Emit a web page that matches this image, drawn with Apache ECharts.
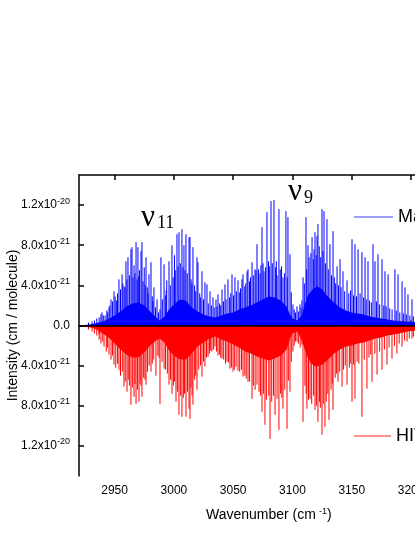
<!DOCTYPE html>
<html>
<head>
<meta charset="utf-8">
<script src="https://cdn.jsdelivr.net/npm/echarts@6/dist/echarts.min.js"></script>
<style>
  html, body { margin: 0; padding: 0; background: #fff; overflow: hidden; }
  #chart { width: 480px; height: 537px; }
</style>
</head>
<body>
<div id="chart"></div>
<script>
// line strengths in units of 1e-21 cm/molecule, wavenumbers in cm-1
var xTicks = [2950, 3000, 3050, 3100, 3150, 3200];
var yTicks = [-12, -8, -4, 0, 4, 8, 12];
var yTickText = ['1.2x10{sup|-20}', '8.0x10{sup|-21}', '4.0x10{sup|-21}', '0.0',
                 '4.0x10{sup|-21}', '8.0x10{sup|-21}', '1.2x10{sup|-20}'];

// MaYTY strong sticks (upper half)
var calcWn = [2939.4, 2942, 2945.3, 2947, 2949.5, 2951.5, 2953.7, 2956.3, 2958, 2959.6,
  2961.3, 2963.8, 2964.7, 2966.4, 2968.1, 2969.7, 2971, 2972.3, 2973.1, 2975,
  2976.5, 2979, 2980.7, 2983.2, 2985.8, 2989.1, 2991.7, 2994, 2995.9, 2998.4,
  3000.5, 3002.6, 3004.3, 3006.8, 3008.5, 3010.2, 3012.8, 3013.6, 3016.1, 3019.5,
  3020.3, 3023.7, 3026.2, 3027.9, 3030.5, 3033, 3035.5, 3037.2, 3040.6, 3043.1,
  3045.6, 3049, 3051.5, 3054.1, 3057.4, 3058.3, 3061.7, 3062.5, 3065.9, 3068.4,
  3070.1, 3072.6, 3074.3, 3076, 3078.5, 3081.9, 3084.4, 3087, 3088.6, 3092,
  3094.5, 3096.2, 3097.9, 3100.4, 3103.8, 3106.3, 3108, 3108.9, 3111.4, 3113.1,
  3116.5, 3119, 3120.7, 3121.5, 3124.9, 3126.6, 3129.1, 3131.6, 3134.2, 3137.6,
  3140.1, 3142.6, 3146, 3150.2, 3152.7, 3155.3, 3158.6, 3161.2, 3163.7, 3167.9,
  3169.6, 3172.1, 3175.5, 3178, 3180.6, 3186.4, 3189, 3192.4, 3194.9, 3197.4, 3200.8];
var calcVal = [1.3, 1.0, 1.8, 2.6, 3.4, 2.5, 4.6, 5.1, 3.9, 6.4,
  6.8, 7.6, 7.8, 6.0, 8.3, 7.8, 5.5, 7.4, 8.3, 5.8,
  6.8, 5.1, 6.3, 3.8, 2.6, 6.8, 6.1, 4.5, 6.4, 8.0,
  7.0, 9.1, 9.3, 9.6, 8.0, 9.1, 8.8, 8.8, 7.8, 6.8,
  6.3, 5.4, 4.3, 4.1, 3.4, 2.8, 2.6, 3.1, 3.6, 4.1,
  4.6, 5.1, 4.8, 4.5, 4.6, 5.1, 5.4, 5.6, 6.3, 5.6,
  8.1, 5.2, 9.8, 5.4, 11.3, 12.4, 12.5, 5.0, 11.6, 4.8,
  11.4, 10.8, 7.1, 2.1, 1.9, 2.1, 2.5, 4.8, 10.8, 8.0,
  8.8, 9.3, 8.9, 10.1, 11.6, 11.4, 10.6, 8.1, 9.4, 5.9,
  6.6, 5.4, 4.5, 8.6, 8.1, 7.6, 7.3, 6.8, 6.4, 8.1,
  6.4, 7.1, 6.6, 5.4, 5.1, 5.6, 5.1, 4.4, 3.8, 3.1, 2.6];

// MaYTY weaker sticks between the strong ones
var calcWeakWn = [2928, 2931, 2933, 2935, 2937, 2938.5, 2940.5, 2943.5, 2944.2, 2946,
  2948.2, 2950.5, 2952.5, 2955, 2957, 2958.8, 2960.4, 2962.5, 2965.5, 2967.2,
  2969, 2970.4, 2974, 2975.8, 2977.6, 2978.3, 2981.8, 2982.4, 2984.5, 2987,
  2988.3, 2990.3, 2992.8, 2993.5, 2997, 2999.4, 3001.2, 3003.5, 3005.4, 3007.7,
  3009.4, 3011.3, 3014.5, 3015.2, 3017.5, 3018.4, 3021.8, 3022.6, 3025, 3029,
  3031.6, 3034, 3036.4, 3038.6, 3039.5, 3041.8, 3044, 3047, 3048, 3050.3,
  3052.7, 3055.5, 3056.2, 3059.8, 3060.6, 3063.8, 3064.6, 3067, 3069.2, 3071.4,
  3073.4, 3075.2, 3077.2, 3079.8, 3080.5, 3083, 3085.8, 3086.4, 3089.7, 3090.8,
  3093.2, 3095.6, 3099, 3101.5, 3102.6, 3105, 3107.2, 3110, 3112, 3114,
  3115.5, 3117.6, 3118.2, 3120, 3122.6, 3123.8, 3125.7, 3127.8, 3130.2, 3132.9,
  3135.3, 3136.4, 3138.8, 3141, 3144, 3147.5, 3149, 3151.5, 3154, 3157,
  3160, 3162.2, 3165, 3166.5, 3170.8, 3173.5, 3177, 3179, 3182, 3184,
  3187.5, 3190.5, 3193.5, 3196, 3199, 3202];
var calcWeakVal = [0.3, 0.4, 0.5, 0.7, 0.8, 1.1, 1.0, 1.5, 1.3, 2.0,
  2.4, 2.9, 3.2, 3.6, 4.2, 3.8, 4.6, 5.0, 4.8, 5.2,
  4.6, 4.9, 4.4, 4.0, 3.8, 3.2, 2.9, 2.4, 1.8, 1.3,
  1.6, 2.6, 3.0, 3.5, 4.0, 4.8, 5.5, 5.9, 6.2, 5.8,
  5.5, 5.2, 4.6, 4.2, 4.0, 3.4, 3.2, 2.8, 2.6, 2.2,
  2.0, 1.8, 1.9, 2.2, 2.0, 2.4, 2.6, 2.8, 3.2, 3.0,
  3.4, 3.3, 3.7, 3.9, 4.2, 4.4, 4.8, 5.0, 5.5, 5.6,
  6.0, 6.2, 5.8, 6.4, 5.9, 6.2, 5.8, 6.4, 5.6, 5.9,
  5.2, 4.8, 3.3, 1.6, 1.3, 1.4, 1.8, 4.2, 5.6, 6.8,
  7.2, 6.6, 7.6, 7.0, 7.9, 6.8, 7.4, 6.2, 5.6, 5.0,
  4.8, 4.2, 4.0, 3.8, 3.4, 3.2, 3.5, 3.0, 2.9, 3.2,
  2.8, 2.6, 2.5, 2.3, 2.4, 2.1, 2.0, 1.9, 1.7, 1.6,
  1.5, 1.3, 1.2, 1.1, 1.0, 0.9];

// MaYTY dense envelope
var calcEnvWn = [2920, 2925, 2930, 2935, 2940, 2945, 2950, 2955, 2960, 2965, 2970, 2975,
  2980, 2985, 2988, 2992, 2996, 3000, 3005, 3010, 3015, 3020, 3025, 3030, 3035, 3040,
  3045, 3050, 3055, 3060, 3065, 3070, 3075, 3080, 3085, 3090, 3095, 3098, 3100, 3104,
  3108, 3110, 3113, 3117, 3121, 3125, 3129, 3133, 3137, 3140, 3145, 3150, 3155, 3160,
  3165, 3170, 3175, 3180, 3185, 3190, 3195, 3200, 3210, 3220, 3230, 3240];
var calcEnvVal = [0, 0.05, 0.12, 0.25, 0.4, 0.65, 1.0, 1.4, 1.9, 2.2, 2.3, 2.0,
  1.4, 0.8, 0.5, 0.9, 1.6, 2.1, 2.6, 2.5, 1.8, 1.4, 1.1, 0.9, 0.8, 1.0,
  1.2, 1.3, 1.6, 1.8, 2.0, 2.3, 2.6, 2.9, 2.8, 2.5, 1.9, 1.1, 0.7, 0.5,
  1.0, 2.0, 3.0, 3.6, 3.9, 3.6, 3.0, 2.5, 2.1, 1.8, 1.5, 1.3, 1.2, 1.1,
  0.9, 0.8, 0.7, 0.6, 0.5, 0.45, 0.4, 0.35, 0.3, 0.2, 0.15, 0.1];

// HITRAN strong sticks (drawn downwards)
var hitWn = [2936.9, 2941.1, 2945.3, 2949.5, 2953.7, 2957.9, 2960.5, 2963.8, 2966.4, 2968.1,
  2970.6, 2973.1, 2976.5, 2980.7, 2984.9, 2988.3, 2991.7, 2995.9, 2998.4, 3001.8,
  3004.3, 3006.8, 3010.2, 3012.8, 3013.6, 3015.3, 3016.1, 3019.5, 3023.7, 3026.2,
  3028.8, 3032.1, 3034.7, 3037.2, 3040.6, 3044.8, 3047.3, 3049.9, 3054.1, 3058.3,
  3062.5, 3065.9, 3070.1, 3074.3, 3076.8, 3081.1, 3085.3, 3088.6, 3092, 3095.4,
  3097.9, 3100.4, 3103.8, 3108, 3108.9, 3112.2, 3114.8, 3119, 3121.5, 3124.9,
  3127.4, 3130.8, 3134.2, 3138.4, 3141.8, 3146, 3150.2, 3152.7, 3158.6, 3162.8,
  3167.1, 3171.3, 3175.5, 3179.7, 3183.9, 3188.1, 3192.4, 3196.6, 3200.8];
var hitVal = [0.9, 2.1, 2.9, 3.9, 4.4, 6.1, 6.6, 7.9, 7.1, 7.8,
  7.6, 7.1, 5.9, 4.6, 5.0, 7.8, 4.3, 5.9, 6.8, 7.6,
  8.9, 9.1, 9.1, 8.3, 9.3, 7.0, 7.9, 6.4, 5.1, 4.1,
  3.1, 2.6, 2.1, 3.0, 3.3, 3.6, 4.3, 4.6, 4.5, 5.1,
  5.6, 7.3, 5.9, 8.6, 9.9, 11.3, 8.9, 10.4, 8.3, 10.3,
  6.6, 2.6, 1.6, 1.9, 9.6, 8.3, 7.3, 8.4, 9.6, 10.9,
  10.1, 9.4, 8.4, 5.6, 6.1, 5.9, 7.6, 7.3, 9.1, 6.3,
  5.6, 4.9, 4.4, 3.9, 3.3, 2.8, 2.1, 1.6, 1.3];

// HITRAN weaker sticks
var hitWeakWn = [2928, 2931, 2933, 2935, 2937, 2938.5, 2940, 2943, 2944, 2947,
  2948.2, 2951, 2952.5, 2955, 2956.5, 2959, 2961.5, 2962.5, 2965, 2967.2,
  2969.3, 2971.5, 2972.3, 2974.5, 2975.6, 2977.8, 2979.2, 2981.8, 2983, 2986.5,
  2987.5, 2990, 2993, 2994.5, 2997.2, 2999.6, 3000.6, 3003, 3005.5, 3008,
  3009, 3011.5, 3014.4, 3017.5, 3018.4, 3021, 3022.5, 3025, 3027.5, 3030,
  3031, 3033.5, 3036, 3038.6, 3039.5, 3042, 3043.5, 3046, 3048.5, 3051,
  3052.5, 3055.5, 3057, 3059.8, 3061, 3063.8, 3067, 3068.5, 3071.8, 3073,
  3075.5, 3078, 3080, 3082.5, 3084, 3087, 3090, 3091, 3093.5, 3096.5,
  3099, 3101.5, 3102.6, 3105, 3106.5, 3110.5, 3111.5, 3113.5, 3116.2, 3117.8,
  3120.2, 3122.8, 3123.5, 3126, 3128.5, 3129.8, 3132.5, 3133.5, 3136, 3137.2,
  3139.8, 3143, 3144.5, 3148, 3149.2, 3151.5, 3154.5, 3156, 3160.5, 3164.5,
  3166, 3169.5, 3173.5, 3177.5, 3181.5, 3186, 3190, 3194.5, 3198.5, 3202];
var hitWeakVal = [0.4, 0.6, 0.8, 1.0, 1.4, 1.8, 1.6, 2.6, 2.2, 3.4,
  3.0, 4.2, 3.8, 5.0, 4.6, 5.6, 5.4, 6.0, 6.2, 5.8,
  6.4, 5.8, 6.0, 5.2, 5.4, 4.6, 4.0, 3.8, 3.4, 3.0,
  3.2, 3.6, 4.4, 4.8, 5.4, 6.0, 5.6, 6.6, 7.0, 7.2,
  6.8, 6.6, 6.2, 5.4, 5.0, 4.4, 4.0, 3.6, 3.2, 2.8,
  2.5, 2.4, 2.6, 2.9, 3.2, 3.4, 3.8, 3.7, 4.2, 4.4,
  4.1, 4.6, 4.4, 5.0, 5.3, 5.6, 6.0, 6.4, 6.6, 7.0,
  6.8, 7.4, 7.0, 7.6, 7.0, 7.3, 6.8, 7.2, 6.4, 5.5,
  3.6, 2.0, 1.6, 1.8, 2.2, 6.0, 6.8, 7.4, 7.8, 7.0,
  8.0, 7.6, 8.2, 7.8, 7.6, 6.8, 6.4, 5.8, 5.2, 4.8,
  4.6, 4.4, 4.0, 4.2, 3.8, 3.9, 3.6, 3.8, 3.4, 3.2,
  2.9, 2.8, 2.6, 2.4, 2.2, 2.0, 1.8, 1.5, 1.3, 1.1];

// HITRAN dense envelope
var hitEnvWn = [2920, 2925, 2930, 2935, 2940, 2945, 2950, 2955, 2960, 2965, 2970, 2975,
  2980, 2985, 2988, 2992, 2996, 3000, 3005, 3010, 3015, 3020, 3025, 3030, 3035, 3040,
  3045, 3050, 3055, 3060, 3065, 3070, 3075, 3080, 3085, 3090, 3095, 3098, 3100, 3104,
  3108, 3112, 3116, 3120, 3125, 3130, 3135, 3140, 3145, 3150, 3155, 3160, 3165, 3170,
  3175, 3180, 3185, 3190, 3195, 3200, 3210, 3220, 3230, 3240];
var hitEnvVal = [0, 0.1, 0.2, 0.4, 0.8, 1.2, 1.8, 2.4, 2.9, 3.2, 3.2, 2.7,
  2.0, 1.5, 1.3, 1.7, 2.5, 3.0, 3.4, 3.4, 2.8, 2.1, 1.7, 1.3, 1.1, 1.4,
  1.6, 1.9, 2.2, 2.6, 2.8, 3.1, 3.3, 3.5, 3.3, 3.0, 2.4, 1.3, 0.8, 0.6,
  1.5, 3.0, 3.8, 4.1, 3.9, 3.4, 2.8, 2.4, 2.1, 2.0, 1.8, 1.7, 1.5, 1.3,
  1.2, 1.0, 0.9, 0.8, 0.65, 0.55, 0.45, 0.35, 0.25, 0.2];

var BLUE = '#0000ff';
var RED = '#ff0000';
var FONT = '"Liberation Sans", Arial, sans-serif';
var SERIF = '"Liberation Serif", "Times New Roman", serif';

function pairs(xs, ys, sign) {
  return xs.map(function (x, i) { return [x, sign * ys[i]]; });
}

function stickRenderer(color) {
  return function (params, api) {
    var x = api.value(0), y = api.value(1);
    var p0 = api.coord([x, 0]);
    var p1 = api.coord([x, y]);
    return {
      type: 'line',
      shape: { x1: p0[0], y1: p0[1], x2: p0[0], y2: p1[1] },
      style: { stroke: color, lineWidth: 1 }
    };
  };
}

function stickSeries(name, data, color) {
  return {
    name: name, type: 'custom', xAxisIndex: 0, yAxisIndex: 0,
    data: data, renderItem: stickRenderer(color), z: 3,
    encode: { x: 0, y: 1 }, itemStyle: { color: color }
  };
}

function envSeries(name, data, color) {
  return {
    name: name, type: 'line', xAxisIndex: 0, yAxisIndex: 0,
    data: data, symbol: 'none', z: 2,
    lineStyle: { color: color, width: 0 }, areaStyle: { color: color, opacity: 1 },
    itemStyle: { color: color }
  };
}

var chart = echarts.init(document.getElementById('chart'));

var zeroSeries = stickSeries('HITRAN', pairs(hitWn, hitVal, -1), RED);
zeroSeries.markLine = {
  silent: true, symbol: ['none', 'none'], label: { show: false },
  lineStyle: { color: '#000', width: 1.6, type: 'solid' },
  data: [{ yAxis: 0 }]
};

var option = {
  animation: false,
  backgroundColor: '#fff',
  textStyle: { fontFamily: FONT },
  grid: { left: 79, top: 175, width: 379.5, height: 301, containLabel: false, outerBoundsMode: 'none' },
  xAxis: [{
    type: 'value', position: 'bottom', min: 2920, max: 3240,
    name: 'Wavenumber (cm{sup|-1})', nameLocation: 'middle', nameGap: 31,
    nameTextStyle: { fontSize: 14, color: '#000', fontFamily: FONT,
      rich: { sup: { fontSize: 9, padding: [0, 0, 8, 3], color: '#000', fontFamily: FONT } } },
    axisLine: { show: true, lineStyle: { color: '#000', width: 1.5 } },
    axisTick: { show: true, inside: false, length: 5, lineStyle: { color: '#000', width: 1.5 },
      customValues: xTicks },
    axisLabel: { show: true, margin: 9, fontSize: 12, color: '#000', fontFamily: FONT,
      customValues: xTicks,
      formatter: function (v) { return String(v); } },
    splitLine: { show: false }
  }, {
    type: 'value', position: 'bottom', min: 2920, max: 3240,
    axisLine: { show: false },
    axisTick: { show: true, inside: true, length: 5, lineStyle: { color: '#000', width: 1.5 },
      customValues: xTicks },
    axisLabel: { show: false },
    splitLine: { show: false }
  }, {
    type: 'value', position: 'top', min: 2920, max: 3240,
    axisLine: { show: true, lineStyle: { color: '#000', width: 1.5 } },
    axisTick: { show: true, inside: true, length: 5, lineStyle: { color: '#000', width: 1.5 },
      customValues: xTicks },
    axisLabel: { show: false },
    splitLine: { show: false }
  }],
  yAxis: [{
    type: 'value', position: 'left', min: -15, max: 15,
    name: 'Intensity (cm / molecule)', nameLocation: 'middle', nameGap: 59,
    nameMoveOverlap: false,
    nameTextStyle: { fontSize: 14, color: '#000', fontFamily: FONT },
    axisLine: { show: true, lineStyle: { color: '#000', width: 1.5 } },
    axisTick: { show: true, inside: true, length: 5, lineStyle: { color: '#000', width: 1.5 },
      customValues: yTicks },
    axisLabel: {
      show: true, margin: 9, fontSize: 12, color: '#000', fontFamily: FONT,
      customValues: yTicks,
      formatter: function (v) {
        var i = yTicks.indexOf(Math.round(v));
        return i >= 0 ? yTickText[i] : '';
      },
      rich: { sup: { fontSize: 9, padding: [0, 0, 8, 0], color: '#000', fontFamily: FONT } }
    },
    splitLine: { show: false }
  }, {
    type: 'value', position: 'right', min: -15, max: 15,
    axisLine: { show: true, lineStyle: { color: '#000', width: 1.5 } },
    axisTick: { show: true, inside: true, length: 5, lineStyle: { color: '#000', width: 1.5 },
      customValues: yTicks },
    axisLabel: { show: false },
    splitLine: { show: false }
  }],
  legend: [{
    data: [{ name: 'MaYTY', icon: 'rect', itemStyle: { color: '#7f7fff' } }],
    left: 354, top: 208, padding: 0, itemWidth: 39, itemHeight: 1.5, selectedMode: false,
    textStyle: { fontSize: 18, color: '#000', fontFamily: FONT }
  }, {
    data: [{ name: 'HITRAN', icon: 'rect', itemStyle: { color: '#ff6f6f' } }],
    left: 354, top: 427, padding: 0, itemWidth: 37, itemHeight: 1.5, selectedMode: false,
    textStyle: { fontSize: 18, color: '#000', fontFamily: FONT }
  }],
  graphic: [
    { type: 'text', x: 141, y: 218, style: { text: 'ν', fontSize: 31, fontFamily: SERIF, fill: '#000', verticalAlign: 'middle' } },
    { type: 'text', x: 157, y: 223, style: { text: '11', fontSize: 18, fontFamily: SERIF, fill: '#000', verticalAlign: 'middle' } },
    { type: 'text', x: 288, y: 192, style: { text: 'ν', fontSize: 31, fontFamily: SERIF, fill: '#000', verticalAlign: 'middle' } },
    { type: 'text', x: 304, y: 198, style: { text: '9', fontSize: 18, fontFamily: SERIF, fill: '#000', verticalAlign: 'middle' } }
  ],
  series: [
    envSeries('MaYTY', pairs(calcEnvWn, calcEnvVal, 1), BLUE),
    stickSeries('MaYTY', pairs(calcWeakWn, calcWeakVal, 1), BLUE),
    stickSeries('MaYTY', pairs(calcWn, calcVal, 1), BLUE),
    envSeries('HITRAN', pairs(hitEnvWn, hitEnvVal, -1), RED),
    stickSeries('HITRAN', pairs(hitWeakWn, hitWeakVal, -1), RED),
    zeroSeries
  ]
};

chart.setOption(option);
</script>
</body>
</html>
